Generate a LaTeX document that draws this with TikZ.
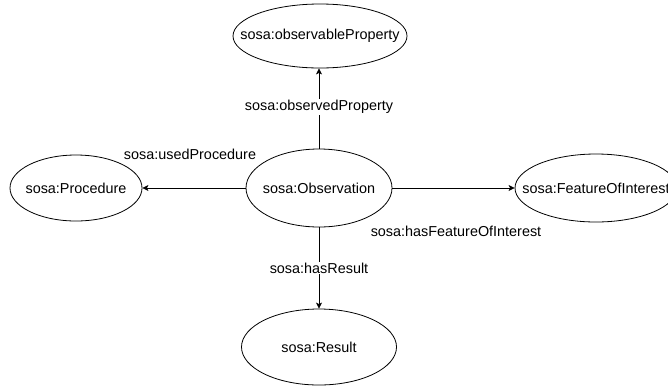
\documentclass[tikz,border=0pt]{standalone}
\usepackage{fontspec}
\setmainfont{Liberation Sans}
\usetikzlibrary{shapes.geometric,arrows.meta}
% label of zero width, so that the ellipse size is set by minimum width/height only
\newcommand{\ellipselabel}[1]{\makebox[0pt]{#1}}
\begin{document}
\begin{tikzpicture}[x=1pt,y=-1pt,
  concept/.style={ellipse,draw,line width=0.8pt,inner sep=0pt,font=\fontsize{14.4}{16}\selectfont},
  rel/.style={-{Stealth[length=6pt,width=6pt,inset=1.5pt]},line width=0.8pt},
  rellabel/.style={font=\fontsize{14.4}{16}\selectfont,inner sep=1pt}]
  \useasboundingbox (0,0) rectangle (668,389);
  % classes
  \node[concept,minimum width=146pt,minimum height=78pt] (obs) at (319,188) {\ellipselabel{sosa:Observation}};
  \node[concept,minimum width=174pt,minimum height=64pt] (prop) at (320,36) {\ellipselabel{sosa:observableProperty}};
  \node[concept,minimum width=132pt,minimum height=66pt] (proc) at (76,188) {\ellipselabel{sosa:Procedure}};
  \node[concept,minimum width=162pt,minimum height=68pt] (foi) at (596,188) {\ellipselabel{sosa:FeatureOfInterest}};
  \node[concept,minimum width=155pt,minimum height=76pt] (res) at (319,347) {\ellipselabel{sosa:Result}};
  % properties
  \draw[rel] (obs.north) -- (obs.north |- prop.south)
    node[rellabel,fill=white,pos=0.52] {sosa:observedProperty};
  \draw[rel] (obs.west) -- (proc.east);
  \node[rellabel] (lproc) at (190,154) {sosa:usedProcedure};
  \draw[rel] (obs.east) -- (foi.west);
  \node[rellabel] (lfoi) at (456,231) {sosa:hasFeatureOfInterest};
  \draw[rel] (obs.south) -- (res.north)
    node[rellabel,fill=white,pos=0.5] {sosa:hasResult};
\end{tikzpicture}
\end{document}
